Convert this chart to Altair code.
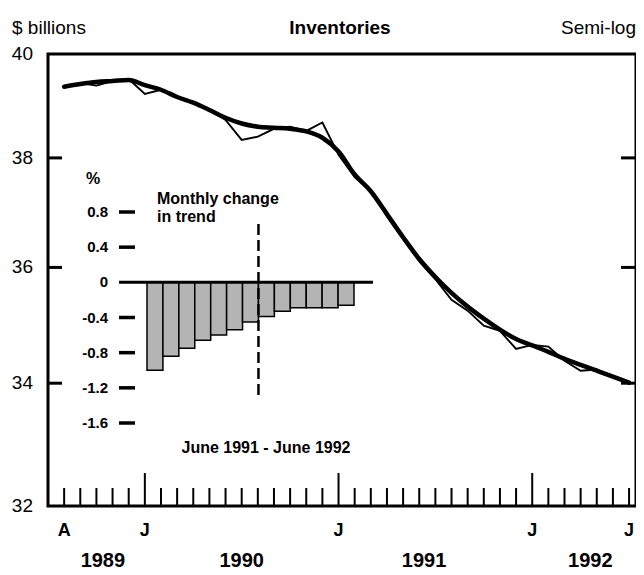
import altair as alt
import pandas as pd

FONT = "Liberation Sans"
W, H = 588, 452

# ---- main series (month index: 0 = Jul 1989, 1 = Aug 1989 ... 36 = Jul 1992)
actual_month = list(range(1, 36))
actual_value = [39.36, 39.43, 39.38, 39.47, 39.51, 39.22, 39.30, 39.16, 39.05, 38.91,
                38.72, 38.34, 38.40, 38.55, 38.59, 38.51, 38.67, 38.06, 37.64, 37.38,
                36.92, 36.51, 36.11, 35.79, 35.43, 35.24, 34.98, 34.89, 34.58, 34.65,
                34.62, 34.38, 34.21, 34.23, 34.11]
trend_month = list(range(1, 37))
trend_value = [39.36, 39.41, 39.45, 39.47, 39.49, 39.39, 39.30, 39.16, 39.05, 38.91,
               38.76, 38.65, 38.59, 38.57, 38.55, 38.50, 38.38, 38.12, 37.69, 37.38,
               36.96, 36.54, 36.15, 35.83, 35.55, 35.31, 35.10, 34.91, 34.75, 34.64,
               34.53, 34.41, 34.31, 34.21, 34.11, 34.01]

minor_ticks = [1, 2, 3, 4, 5, 7, 8, 9, 10, 11, 12, 13, 14, 15, 16, 17,
               19, 20, 21, 22, 23, 24, 25, 26, 27, 28, 29, 31, 32, 33, 34, 35, 36]
major_ticks = [6, 18, 30]
month_label_pos = [1, 6, 18, 30, 36]
month_label_text = ["A", "J", "J", "J", "J"]
year_pos = [3.4, 12.0, 23.3, 33.6]
year_text = ["1989", "1990", "1991", "1992"]
y_tick_values = [34, 36, 38]
y_label_values = [32, 34, 36, 38, 40]
y_label_text = ["32", "34", "36", "38", "40"]

# ---- inset: monthly change in trend, June 1991 - June 1992
bar_month = ["Jun 91", "Jul 91", "Aug 91", "Sep 91", "Oct 91", "Nov 91", "Dec 91",
             "Jan 92", "Feb 92", "Mar 92", "Apr 92", "May 92", "Jun 92"]
bar_change = [-1.00, -0.84, -0.75, -0.66, -0.60, -0.54, -0.45,
              -0.39, -0.33, -0.29, -0.29, -0.29, -0.26]
inset_tick_values = [0.8, 0.4, -0.4, -0.8, -1.2, -1.6]
inset_label_values = [0.8, 0.4, 0, -0.4, -0.8, -1.2, -1.6]
inset_label_text = ["0.8", "0.4", "0", "-0.4", "-0.8", "-1.2", "-1.6"]
dashed_at = [7]  # boundary between Dec 91 and Jan 92

main_x = alt.Scale(domain=[0, 36.43], nice=False, zero=False)
main_y = alt.Scale(type="log", domain=[32, 40], nice=False, zero=False)
inset_x = alt.Scale(domain=[0, 13], range=[99, 306], nice=False, zero=False)
inset_y = alt.Scale(domain=[-1.6, 0.8], range=[369, 158], nice=False, zero=False)

actual_df = pd.DataFrame({"m": actual_month, "v": actual_value})
trend_df = pd.DataFrame({"m": trend_month, "v": trend_value})

actual_line = alt.Chart(actual_df).mark_line(color="black", strokeWidth=1.9).encode(
    x=alt.X("m:Q", scale=main_x, axis=None),
    y=alt.Y("v:Q", scale=main_y, axis=None),
)
trend_line = alt.Chart(trend_df).mark_line(color="black", strokeWidth=4.5, interpolate="monotone",
                                           strokeCap="round").encode(
    x=alt.X("m:Q", scale=main_x, axis=None),
    y=alt.Y("v:Q", scale=main_y, axis=None),
)

minor = alt.Chart(pd.DataFrame({"m": minor_ticks})).mark_rule(color="black", strokeWidth=2).encode(
    x=alt.X("m:Q", scale=main_x, axis=None), y=alt.value(H), y2=alt.value(H - 18))
major = alt.Chart(pd.DataFrame({"m": major_ticks})).mark_rule(color="black", strokeWidth=2).encode(
    x=alt.X("m:Q", scale=main_x, axis=None), y=alt.value(H), y2=alt.value(H - 33))

ytick_df = pd.DataFrame({"v": y_tick_values})
left_ticks = alt.Chart(ytick_df).mark_rule(color="black", strokeWidth=3).encode(
    y=alt.Y("v:Q", scale=main_y, axis=None), x=alt.value(0), x2=alt.value(14))
right_ticks = alt.Chart(ytick_df).mark_rule(color="black", strokeWidth=3).encode(
    y=alt.Y("v:Q", scale=main_y, axis=None), x=alt.value(W - 15), x2=alt.value(W))

y_labels = alt.Chart(pd.DataFrame({"v": y_label_values, "t": y_label_text})).mark_text(
    font=FONT, fontSize=19, color="black", align="right", baseline="middle").encode(
    y=alt.Y("v:Q", scale=main_y, axis=None), x=alt.value(-15), text="t:N")

month_labels = alt.Chart(pd.DataFrame({"m": month_label_pos, "t": month_label_text})).mark_text(
    font=FONT, fontSize=18, fontWeight="bold", color="black", baseline="middle").encode(
    x=alt.X("m:Q", scale=main_x, axis=None), y=alt.value(H + 25), text="t:N")
year_labels = alt.Chart(pd.DataFrame({"m": year_pos, "t": year_text})).mark_text(
    font=FONT, fontSize=20, fontWeight="bold", color="black", baseline="middle").encode(
    x=alt.X("m:Q", scale=main_x, axis=None), y=alt.value(H + 55), text="t:N")

one = pd.DataFrame({"a": [0]})
t_units = alt.Chart(one).mark_text(font=FONT, fontSize=19, color="black", align="left",
                                   baseline="middle", text="$ billions").encode(
    x=alt.value(-36), y=alt.value(-26))
t_title = alt.Chart(one).mark_text(font=FONT, fontSize=19, fontWeight="bold", color="black",
                                   align="center", baseline="middle", text="Inventories").encode(
    x=alt.value(292), y=alt.value(-26))
t_scale = alt.Chart(one).mark_text(font=FONT, fontSize=19, color="black", align="right",
                                   baseline="middle", text="Semi-log").encode(
    x=alt.value(W), y=alt.value(-26))

main = alt.layer(actual_line, trend_line, minor, major, left_ticks, right_ticks, y_labels,
                 month_labels, year_labels, t_units, t_title, t_scale)

# ---- inset
bars_df = pd.DataFrame({"month": bar_month, "change": bar_change})
bars_df["x0"] = range(len(bar_month))
bars_df["x1"] = bars_df["x0"] + 1

bars = alt.Chart(bars_df).mark_bar(fill="#b4b4b4", stroke="black", strokeWidth=1.5).encode(
    x=alt.X("x0:Q", scale=inset_x, axis=None), x2="x1:Q",
    y=alt.Y("change:Q", scale=inset_y, axis=None), y2=alt.datum(0))
baseline = alt.Chart(pd.DataFrame({"v": [0]})).mark_rule(color="black", strokeWidth=3).encode(
    y=alt.Y("v:Q", scale=inset_y, axis=None), x=alt.value(71), x2=alt.value(325))
inset_ticks = alt.Chart(pd.DataFrame({"v": inset_tick_values})).mark_rule(
    color="black", strokeWidth=3.5).encode(
    y=alt.Y("v:Q", scale=inset_y, axis=None), x=alt.value(71), x2=alt.value(87))
inset_labels = alt.Chart(pd.DataFrame({"v": inset_label_values, "t": inset_label_text})).mark_text(
    font=FONT, fontSize=15, fontWeight="bold", color="black", align="right", baseline="middle").encode(
    y=alt.Y("v:Q", scale=inset_y, axis=None), x=alt.value(60), text="t:N")
dashed = alt.Chart(pd.DataFrame({"x": dashed_at})).mark_rule(
    color="black", strokeWidth=2.5, strokeDash=[11, 5]).encode(
    x=alt.X("x:Q", scale=inset_x, axis=None), y=alt.value(170), y2=alt.value(343))

i_pct = alt.Chart(one).mark_text(font=FONT, fontSize=16, fontWeight="bold", color="black",
                                 align="center", baseline="middle", text="%").encode(
    x=alt.value(45), y=alt.value(125))
i_t1 = alt.Chart(one).mark_text(font=FONT, fontSize=16, fontWeight="bold", color="black",
                                align="left", baseline="middle", text="Monthly change").encode(
    x=alt.value(109), y=alt.value(145))
i_t2 = alt.Chart(one).mark_text(font=FONT, fontSize=16, fontWeight="bold", color="black",
                                align="left", baseline="middle", text="in trend").encode(
    x=alt.value(109), y=alt.value(163))
i_t3 = alt.Chart(one).mark_text(font=FONT, fontSize=16, fontWeight="bold", color="black",
                                align="center", baseline="middle", text="June 1991 - June 1992").encode(
    x=alt.value(218), y=alt.value(394))

inset = alt.layer(bars, baseline, inset_ticks, inset_labels, dashed, i_pct, i_t1, i_t2, i_t3)

chart = alt.layer(main, inset).resolve_scale(x="independent", y="independent").properties(
    width=W, height=H,
    autosize=alt.AutoSizeParams(type="none"),
    padding={"left": 40, "top": 46, "right": 0, "bottom": 67},
    background="white",
).configure_view(stroke="black", strokeWidth=3)

chart.save("out.html", embed_options={"renderer": "svg", "actions": False})
